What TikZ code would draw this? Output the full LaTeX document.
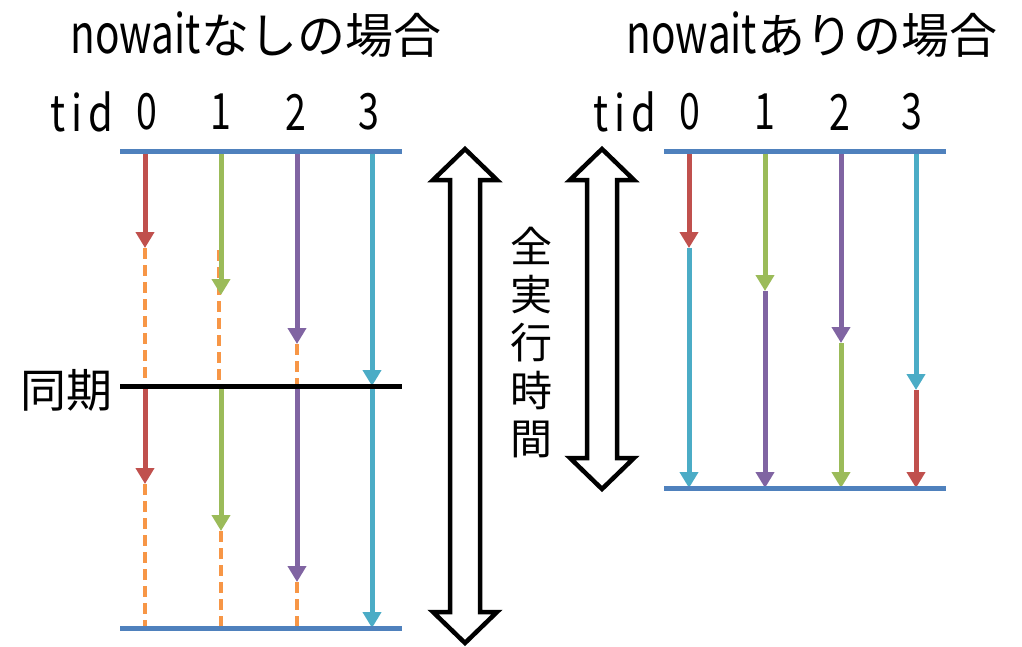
\documentclass[tikz,border=0pt]{standalone}
\usepackage{fontspec}
\setmainfont{Noto Sans CJK JP}
\newfontfamily\narrow[FakeStretch=0.75]{Noto Sans CJK JP}
\newfontfamily\narrowsp[FakeStretch=0.8,LetterSpace=12]{Noto Sans CJK JP}
\usetikzlibrary{arrows.meta}
\definecolor{cred}{HTML}{C0504D}
\definecolor{cgreen}{HTML}{9BBB59}
\definecolor{cpurple}{HTML}{8064A2}
\definecolor{ccyan}{HTML}{4BACC6}
\definecolor{cblue}{HTML}{4F81BD}
\definecolor{corange}{HTML}{F79646}
\begin{document}
\begin{tikzpicture}[x=1pt,y=-1pt,
  hline/.style={line width=5pt,cblue},
  work/.style={line width=5pt,-{Triangle[width=18pt,length=16pt]}},
  waitline/.style={line width=4pt,corange,dash pattern=on 11pt off 6pt},
  dbl/.style={line width=4.5pt,draw=black,fill=white,line join=miter},
  lbl/.style={inner sep=0pt,font=\narrow\fontsize{50}{54}\selectfont},
  big/.style={inner sep=0pt,font=\fontsize{48}{54}\selectfont}]
\useasboundingbox (0,0) rectangle (1022,646);
% titles
\node[big] (t1) at (256,35) {{\narrow\fontsize{54}{56}\selectfont nowait}なしの場合};
\node[big] (t2) at (812,35) {{\narrow\fontsize{54}{56}\selectfont nowait}ありの場合};
\node[lbl,font=\narrowsp\fontsize{50}{54}\selectfont] (tidL) at (82,112) {tid};
\node[lbl] (l0) at (147,112) {0};
\node[lbl] (l1) at (221,112) {1};
\node[lbl] (l2) at (296,112) {2};
\node[lbl] (l3) at (369,112) {3};
\node[lbl,font=\narrowsp\fontsize{50}{54}\selectfont] (tidR) at (625,112) {tid};
\node[lbl] (r0) at (690,112) {0};
\node[lbl] (r1) at (765,112) {1};
\node[lbl] (r2) at (840,112) {2};
\node[lbl] (r3) at (912,112) {3};
% left panel coordinates
\foreach \n/\x in {0/145,1/221,2/297,3/372}{
  \coordinate (Lt\n) at (\x,151);
  \coordinate (Ls\n) at (\x,386);
  \coordinate (Lb\n) at (\x,628);
}
\coordinate (Ld0) at (145,248); \coordinate (Ld1) at (219,250); \coordinate (Ld2) at (297,344);
\coordinate (Le0) at (145,484); \coordinate (Le1) at (221,531); \coordinate (Le2) at (297,582);
\coordinate (Ld1b) at (219,386);
% dashed waits
\draw[waitline] (Ld0) -- (Ls0);
\draw[waitline] (Ld1) -- (Ld1b);
\draw[waitline] (Ld2) -- (Ls2);
\draw[waitline] (Le0) -- (Lb0);
\draw[waitline] (Le1) -- (Lb1);
\draw[waitline] (Le2) -- (Lb2);
% work arrows phase 1
\draw[work,cred] (Lt0) -- (Ld0);
\draw[work,cgreen] (Lt1) -- (221,295);
\draw[work,cpurple] (Lt2) -- (Ld2);
\draw[work,ccyan] (Lt3) -- (Ls3);
% phase 2
\draw[work,cred] (Ls0) -- (Le0);
\draw[work,cgreen] (Ls1) -- (Le1);
\draw[work,cpurple] (Ls2) -- (Le2);
\draw[work,ccyan] (Ls3) -- (Lb3);
% lines
\coordinate (LA) at (120,151); \coordinate (LB) at (402,151);
\coordinate (LC) at (120,386); \coordinate (LD) at (402,386);
\coordinate (LE) at (120,628); \coordinate (LF) at (402,628);
\draw[hline] (LA) -- (LB);
\draw[line width=5pt,black] (LC) -- (LD);
\draw[hline] (LE) -- (LF);
\node[big,anchor=east,font=\fontsize{46}{50}\selectfont] (sync) at (113,390) {同期};
% right panel
\foreach \n/\x in {0/689,1/765,2/841,3/916}{
  \coordinate (Rt\n) at (\x,151);
  \coordinate (Rb\n) at (\x,488);
}
\coordinate (Rm0) at (689,248); \coordinate (Rm1) at (765,291);
\coordinate (Rm2) at (841,343); \coordinate (Rm3) at (916,390);
\draw[work,cred] (Rt0) -- (Rm0);
\draw[work,ccyan] (Rm0) -- (Rb0);
\draw[work,cgreen] (Rt1) -- (Rm1);
\draw[work,cpurple] (Rm1) -- (Rb1);
\draw[work,cpurple] (Rt2) -- (Rm2);
\draw[work,cgreen] (Rm2) -- (Rb2);
\draw[work,ccyan] (Rt3) -- (Rm3);
\draw[work,cred] (Rm3) -- (Rb3);
\coordinate (RA) at (664,151); \coordinate (RB) at (946,151);
\coordinate (RC) at (664,488); \coordinate (RD) at (946,488);
\draw[hline] (RA) -- (RB);
\draw[hline] (RC) -- (RD);
% double arrows
\draw[dbl] (465,149) -- (497,180) -- (480,180) -- (480,612) -- (497,612) -- (465,643)
  -- (433,612) -- (450,612) -- (450,180) -- (433,180) -- cycle;
\draw[dbl] (602,149) -- (634,180) -- (617,180) -- (617,458) -- (634,458) -- (602,489)
  -- (570,458) -- (587,458) -- (587,180) -- (570,180) -- cycle;
% vertical label
\node[big,align=center,font=\fontsize{42}{48}\selectfont] (total) at (531,343) {全\\実\\行\\時\\間};
\end{tikzpicture}
\end{document}
